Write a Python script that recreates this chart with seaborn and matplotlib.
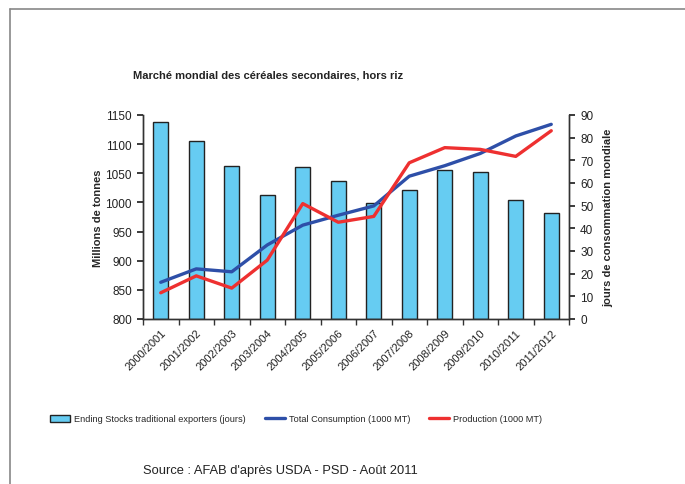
import numpy as np
import pandas as pd
import matplotlib
matplotlib.use("Agg")
import matplotlib.pyplot as plt
import seaborn as sns
from matplotlib.lines import Line2D
from matplotlib.patches import Patch

campagnes = ["2000/2001", "2001/2002", "2002/2003", "2003/2004", "2004/2005", "2005/2006",
             "2006/2007", "2007/2008", "2008/2009", "2009/2010", "2010/2011", "2011/2012"]
stocks_jours = [87.0, 78.7, 67.6, 54.7, 66.9, 61.0, 51.3, 56.8, 65.7, 65.0, 52.4, 46.8]
consommation = [863, 886, 881, 927, 961, 978, 994, 1045, 1063, 1084, 1114, 1134]
production = [845, 874, 853, 901, 998, 966, 976, 1068, 1094, 1091, 1079, 1123]

sns.set_theme(style="white")
plt.rcParams['font.family'] = ['Liberation Sans', 'DejaVu Sans']

fig = plt.figure(figsize=(6.85, 4.85), dpi=100)
ax = fig.add_axes([143/685, 1-320/485, (569-143)/685, (320-116)/485])
ax2 = ax.twinx()

df = pd.DataFrame({"campagne": campagnes, "stocks": stocks_jours,
                   "cons": consommation, "prod": production})
df["pos"] = np.arange(len(df))

bar_col = "#66CCF2"
sns.barplot(data=df, x="campagne", y="stocks", ax=ax, color=bar_col, saturation=1,
            width=0.41, edgecolor="#222222", linewidth=1.0)
sns.lineplot(data=df, x="pos", y="cons", ax=ax2, color="#2E4FA8", linewidth=2.4)
sns.lineplot(data=df, x="pos", y="prod", ax=ax2, color="#EE3030", linewidth=2.4)

ax.set_ylim(0, 90)
ax.set_xlim(-0.5, len(campagnes) - 0.5)
ax2.set_xlim(-0.5, len(campagnes) - 0.5)
ax2.set_ylim(800, 1150)

# bars axis on the right, lines axis on the left
ax.yaxis.tick_right()
ax.yaxis.set_label_position("right")
ax.set_yticks(np.arange(0, 91, 10))
ax.set_ylabel("jours de consommation mondiale", fontsize=8, fontweight="bold", labelpad=7)
ax.set_xlabel("")

ax2.yaxis.tick_left()
ax2.yaxis.set_label_position("left")
ax2.set_yticks(np.arange(800, 1151, 50))
ax2.set_ylabel("Millions de tonnes", fontsize=8, fontweight="bold", labelpad=2)
ax2.set_xlabel("")

ax.set_xticks(np.arange(len(campagnes)))
ax.set_xticklabels(campagnes, rotation=45, ha="right", rotation_mode="anchor", fontsize=8, color="#222222")
ax.tick_params(axis="x", which="major", length=0, pad=6)
ax.set_xticks(np.arange(-0.5, len(campagnes), 1.0), minor=True)
ax.tick_params(axis="x", which="minor", length=4, direction="out", bottom=True, color="#333333")
ax.tick_params(axis="y", which="major", length=4, direction="out", right=True, left=False,
               labelright=True, labelleft=False, labelsize=8.5, colors="#222222", pad=4)
ax2.tick_params(axis="y", which="major", length=4, direction="out", left=True, right=False,
                labelleft=True, labelright=False, labelsize=8.5, colors="#222222", pad=4)

for a in (ax, ax2):
    a.grid(False)
    a.spines["top"].set_visible(False)
    for s in ("left", "right", "bottom"):
        a.spines[s].set_color("#333333")
        a.spines[s].set_linewidth(1.0)

fig.text(268/685, 1-75/485, "Marché mondial des céréales secondaires, hors riz",
         ha="center", va="center", fontsize=8, fontweight="bold", color="#222222")

handles = [Patch(facecolor=bar_col, edgecolor="#222222", linewidth=1.0),
           Line2D([], [], color="#2E4FA8", linewidth=2.4),
           Line2D([], [], color="#EE3030", linewidth=2.4)]
labels = ["Ending Stocks traditional exporters (jours)", "Total Consumption (1000 MT)", "Production (1000 MT)"]
fig.legend(handles, labels, loc="center", bbox_to_anchor=(296/685, 1-420/485), ncol=3,
           frameon=False, fontsize=6.6, handlelength=2.2, handleheight=0.7, columnspacing=2.1,
           handletextpad=0.4)

fig.text(280/685, 1-471/485, "Source : AFAB d'après USDA - PSD - Août 2011",
         ha="center", va="center", fontsize=9.3, color="#222222")

# page frame
fig.add_artist(Line2D([10/685, 10/685], [0, 1-10/485], transform=fig.transFigure, color="#888888", linewidth=1.2))
fig.add_artist(Line2D([10/685, 1], [1-10/485, 1-10/485], transform=fig.transFigure, color="#888888", linewidth=1.2))

fig.savefig("out.png", dpi=100)
